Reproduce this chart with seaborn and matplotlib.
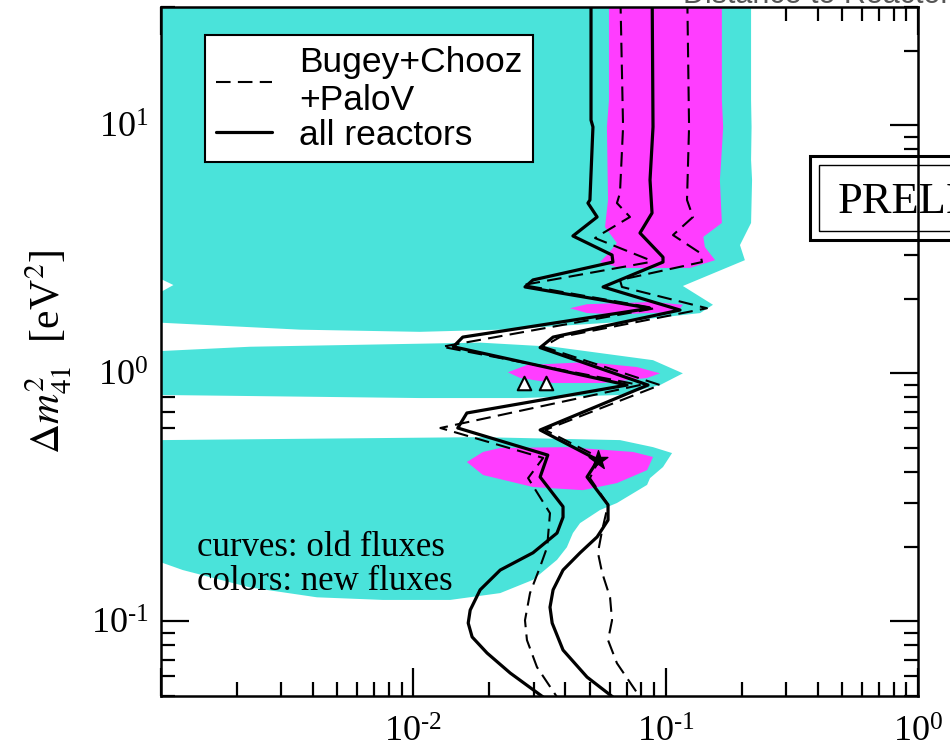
import numpy as np
import matplotlib
matplotlib.use("Agg")
import matplotlib.pyplot as plt
from matplotlib.lines import Line2D
from matplotlib.patches import Rectangle
from matplotlib.ticker import FuncFormatter
import seaborn as sns

# ---- allowed regions (new fluxes) ----
cyan_upper_x = [0.001, 0.218, 0.218, 0.219, 0.218, 0.220, 0.218, 0.197, 0.206, 0.117,
                0.154, 0.137, 0.0659, 0.0221, 0.0106, 0.00356, 0.001, 0.001, 0.00112, 0.001]
cyan_upper_y = [40, 40, 12.6, 9.85, 7.25, 6.02, 4.04, 3.29, 2.86, 2.25,
                1.89, 1.75, 1.61, 1.50, 1.47, 1.50, 1.60, 2.13, 2.27, 2.40]

cyan_mid_x = [0.001, 0.00225, 0.0184, 0.0358, 0.0891, 0.117, 0.0950, 0.0659, 0.0265, 0.0106, 0.001]
cyan_mid_y = [1.23, 1.28, 1.33, 1.28, 1.13, 1.00, 0.897, 0.818, 0.795, 0.795, 0.818]

cyan_low_x = [0.001, 0.0184, 0.0659, 0.0891, 0.106, 0.0976, 0.0867, 0.0844, 0.0641, 0.0549,
              0.0458, 0.0429, 0.0406, 0.0371, 0.0298, 0.0221, 0.0140, 0.00758, 0.00415,
              0.00225, 0.00122, 0.001]
cyan_low_y = [0.538, 0.553, 0.538, 0.504, 0.477, 0.419, 0.378, 0.355, 0.300, 0.281,
              0.249, 0.227, 0.199, 0.177, 0.147, 0.130, 0.122, 0.122, 0.125,
              0.137, 0.161, 0.173]

mag_upper_x = [0.0596, 0.167, 0.167, 0.169, 0.166, 0.164, 0.167, 0.141, 0.143, 0.157,
               0.125, 0.0659, 0.0549, 0.0585, 0.0641, 0.0575, 0.0591, 0.0585, 0.0596]
mag_upper_y = [40, 40, 12.6, 9.85, 7.25, 6.02, 4.04, 3.55, 3.23, 2.86,
               2.66, 2.66, 2.81, 3.00, 3.35, 3.89, 5.00, 9.85, 12.6]

mag_2_x = [0.0418, 0.0488, 0.0891, 0.117, 0.111, 0.0659, 0.0488]
mag_2_y = [1.83, 1.90, 1.94, 1.89, 1.77, 1.73, 1.75]

mag_3_x = [0.0237, 0.0282, 0.0488, 0.0770, 0.0950, 0.0844, 0.0565, 0.0358, 0.0265]
mag_3_y = [1.01, 1.08, 1.11, 1.06, 1.00, 0.958, 0.914, 0.914, 0.958]

mag_4_x = [0.0163, 0.0189, 0.0221, 0.0406, 0.0742, 0.0891, 0.0844, 0.0641, 0.0470, 0.0298, 0.0189]
mag_4_y = [0.439, 0.482, 0.500, 0.504, 0.482, 0.460, 0.407, 0.361, 0.338, 0.348, 0.389]

# ---- contours with old fluxes ----
all_left_x = [0.0506, 0.0506, 0.0515, 0.0501, 0.0492, 0.0535, 0.0429, 0.0613, 0.0618, 0.0298,
              0.0277, 0.0867, 0.0157, 0.0144, 0.0703, 0.0163, 0.0150, 0.0341, 0.0318, 0.0392,
              0.0392, 0.0371, 0.0298, 0.0221, 0.0184, 0.0168, 0.0165, 0.0171, 0.0196, 0.0242,
              0.0327, 0.0361]
all_left_y = [40, 10.5, 9.85, 5.00, 4.86, 4.27, 3.58, 3.00, 2.81, 2.38,
              2.23, 1.83, 1.40, 1.28, 0.897, 0.692, 0.602, 0.468, 0.382, 0.290,
              0.263, 0.227, 0.189, 0.161, 0.134, 0.111, 0.0984, 0.0865, 0.0745, 0.0619,
              0.0495, 0.046]

all_right_x = [0.0883, 0.0891, 0.0867, 0.0883, 0.0791, 0.0976, 0.0976, 0.0565, 0.114, 0.0358,
               0.0318, 0.0851, 0.0318, 0.0539, 0.0488, 0.0591, 0.0591, 0.0535, 0.0458, 0.0392,
               0.0358, 0.0348, 0.0355, 0.0392, 0.0488, 0.0618, 0.0678]
all_right_y = [40, 9.85, 6.02, 4.43, 3.68, 2.94, 2.81, 2.23, 1.80, 1.40,
               1.27, 0.897, 0.591, 0.447, 0.382, 0.295, 0.256, 0.219, 0.189, 0.161,
               0.134, 0.114, 0.0984, 0.0766, 0.0596, 0.0495, 0.046]

bcp_left_x = [0.0659, 0.0678, 0.0659, 0.0641, 0.0722, 0.0565, 0.0525, 0.0867, 0.0867, 0.0272,
              0.0907, 0.0130, 0.0791, 0.0128, 0.0327, 0.0285, 0.0348, 0.0339, 0.0318, 0.0290,
              0.0277, 0.0282, 0.0309, 0.0371, 0.0388]
bcp_left_y = [40, 9.85, 5.33, 4.86, 4.27, 3.68, 3.51, 2.86, 2.81, 2.27,
              1.83, 1.28, 0.897, 0.602, 0.456, 0.378, 0.273, 0.199, 0.166, 0.130,
              0.101, 0.084, 0.0654, 0.0495, 0.046]

bcp_right_x = [0.1215, 0.1238, 0.1215, 0.1283, 0.1069, 0.1368, 0.1393, 0.0659, 0.0671, 0.1458,
               0.0381, 0.0327, 0.0950, 0.0333, 0.0549, 0.0501, 0.0591, 0.0560, 0.0539, 0.0560,
               0.0602, 0.0613, 0.0591, 0.0641, 0.0791, 0.0828]
bcp_right_y = [40, 9.85, 5.00, 4.27, 3.61, 3.06, 2.81, 2.38, 2.23, 1.83,
               1.40, 1.28, 0.897, 0.591, 0.456, 0.378, 0.295, 0.233, 0.189, 0.157,
               0.125, 0.101, 0.084, 0.0678, 0.0495, 0.046]

# ---- special points ----
tri_x = [0.0275, 0.0336]
tri_y = [0.914, 0.914]
star_x = [0.0539]
star_y = [0.447]

legend_labels = ["Bugey+Chooz\n+PaloV", "all reactors"]
note_lines = ["curves: old fluxes", "colors: new fluxes"]

CYAN = "#4AE3DA"
MAGENTA = "#FF3DFF"

sns.set_theme(style="white")
plt.rcParams.update({
    "font.family": ["Liberation Serif", "DejaVu Serif"],
    "mathtext.fontset": "stix",
    "axes.unicode_minus": False,
    "axes.linewidth": 1.8,
    "axes.edgecolor": "black",
    "axes.labelcolor": "black",
    "text.color": "black",
    "xtick.color": "black",
    "ytick.color": "black",
    "xtick.bottom": True,
    "ytick.left": True,
})

fig = plt.figure(figsize=(9.5, 7.56), dpi=100)
fig.patch.set_facecolor("white")
ax = fig.add_axes([161 / 950, 1 - 696 / 756, (918 - 161) / 950, (696 - 7) / 756])
ax.set_xscale("log")
ax.set_yscale("log")
ax.set_xlim(1e-3, 1)
ax.set_ylim(0.05, 30)

for xs, ys in [(cyan_upper_x, cyan_upper_y), (cyan_mid_x, cyan_mid_y), (cyan_low_x, cyan_low_y)]:
    ax.fill(xs, ys, color=CYAN, lw=0, zorder=1)
for xs, ys in [(mag_upper_x, mag_upper_y), (mag_2_x, mag_2_y), (mag_3_x, mag_3_y), (mag_4_x, mag_4_y)]:
    ax.fill(xs, ys, color=MAGENTA, lw=0, zorder=1.2)

dash = (0, (7, 3.5))
for xs, ys in [(bcp_left_x, bcp_left_y), (bcp_right_x, bcp_right_y)]:
    sns.lineplot(x=xs, y=ys, sort=False, estimator=None, color="black", lw=1.5,
                 linestyle=dash, ax=ax, zorder=3)
for xs, ys in [(all_left_x, all_left_y), (all_right_x, all_right_y)]:
    sns.lineplot(x=xs, y=ys, sort=False, estimator=None, color="black", lw=2.3,
                 ax=ax, zorder=3.1)

ax.scatter(tri_x, tri_y, marker="^", s=95, facecolor="white", edgecolor="black",
           linewidth=1.5, zorder=4)
ax.scatter(star_x, star_y, marker="*", s=200, color="black", zorder=4)


def decade_label(v, pos):
    if v < 2e-3:
        return ""
    e = int(round(np.log10(v)))
    if e < 0:
        return r"$\mathdefault{10^{\text{-}%d}}$" % (-e)
    return r"$\mathdefault{10^{%d}}$" % e


ax.xaxis.set_major_formatter(FuncFormatter(decade_label))
ax.yaxis.set_major_formatter(FuncFormatter(decade_label))
ax.tick_params(which="both", direction="in", top=True, right=True, bottom=True, left=True,
               color="black", labelsize=26)
ax.tick_params(which="major", length=20, width=1.6)
ax.tick_params(which="minor", length=10, width=1.6)
ax.tick_params(axis="x", which="major", pad=15)
ax.tick_params(axis="y", which="major", pad=9)
for s in ax.spines.values():
    s.set_linewidth(1.8)
    s.set_zorder(5)

ax.set_ylabel(r"$\Delta m^2_{41}$  [eV$^2$]", fontsize=30, labelpad=12)

handles = [Line2D([], [], color="black", lw=1.5, linestyle=dash),
           Line2D([], [], color="black", lw=2.3)]
leg = ax.legend(handles, legend_labels, loc="upper left", bbox_to_anchor=(0.058, 0.959),
                borderaxespad=0, frameon=True, fancybox=False, framealpha=1,
                edgecolor="black", prop={"family": "Liberation Sans", "size": 25.5},
                handlelength=1.6, handletextpad=0.75, borderpad=0.3, labelspacing=0.05)
leg.get_frame().set_linewidth(1.5)
leg.set_zorder(6)

ax.text(0.0476, 0.216, note_lines[0], transform=ax.transAxes, fontsize=25,
        va="center", ha="left", zorder=4)
ax.text(0.0476, 0.1655, note_lines[1], transform=ax.transAxes, fontsize=25,
        va="center", ha="left", zorder=4)

# double-framed stamp on the right
ax.add_patch(Rectangle((810 / 950, 1 - 240 / 756), 0.5, 84 / 756, transform=fig.transFigure,
                       facecolor="white", edgecolor="black", lw=2.2, clip_on=False, zorder=2.2))
ax.add_patch(Rectangle((819 / 950, 1 - 231 / 756), 0.5, 66 / 756, transform=fig.transFigure,
                       facecolor="none", edgecolor="black", lw=1.0, clip_on=False, zorder=2.3))
ax.text(838 / 950, 1 - 213 / 756, "PRELIMINARY", transform=fig.transFigure, fontsize=32,
        va="baseline", ha="left", clip_on=False, zorder=2.4)

fig.text(683 / 950, 1 - 3 / 756, "Distance to Reactor (m)", fontsize=22, color="#555555",
         family="Liberation Sans", va="baseline", ha="left")

fig.savefig("out.png", dpi=100)
